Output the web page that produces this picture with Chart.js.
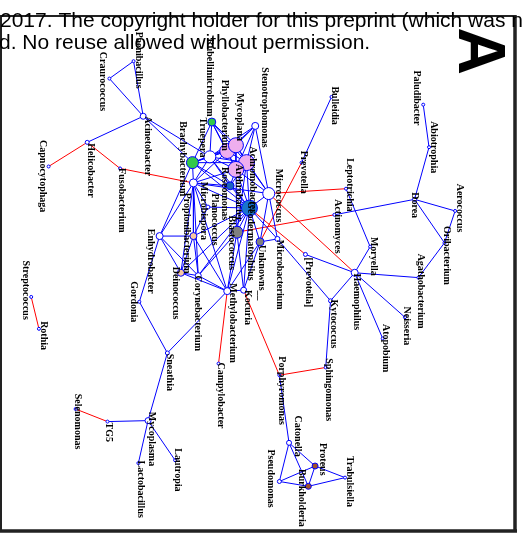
<!DOCTYPE html>
<html>
<head>
<meta charset="utf-8">
<script src="https://cdn.jsdelivr.net/npm/chart.js@4.4.0/dist/chart.umd.min.js"></script>
<style>
  html, body { margin: 0; padding: 0; background: #fff; }
  canvas { display: block; }
</style>
</head>
<body>
<canvas id="net" width="523" height="533"></canvas>
<script>
// Genera in the co-occurrence network and their layout coordinates
const genera = [
  "Paenibacillus", "Craurococcus", "Rubellimicrobium", "Acinetobacter", "Helicobacter",
  "Capnocytophaga", "Fusobacterium", "Brachybacterium", "Truepera", "Phyllobacterium",
  "Mycoplana", "Stenotrophomonas", "Achromobacter", "Arthrobacter", "Roseomonas",
  "Microbispora", "Planococcus", "Propionibacterium", "Geodermatophilus", "Blastococcus",
  "Unknowns__", "Microbacterium", "[Prevotella]", "Methylobacterium", "Kocuria",
  "Corynebacterium", "Deinococcus", "Enhydrobacter", "Gordonia", "Sneathia",
  "Streptococcus", "Rothia", "Campylobacter", "Micrococcus", "Prevotella",
  "Bulleidia", "Leptotrichia", "Actinomyces", "Paludibacter", "Abiotrophia",
  "Dorea", "Aerococcus", "Oribacterium", "Agathobacterium", "Moryella",
  "Haemophilus", "Kytococcus", "Neisseria", "Atopobium", "Sphingomonas",
  "Porphyromonas", "Catonella", "Pseudomonas", "Proteus", "Burkholderia",
  "Trabulsiella", "Selenomonas", "TG5", "Mycoplasma", "Lactobacillus", "Lautropia"
];
const nodeX = [
  129, 104, 210, 139, 81,
  41, 115, 190, 208, 226,
  235, 255, 246, 235, 229,
  191, 206, 191, 249, 236,
  260, 278, 307, 226, 243,
  196, 178, 156, 135, 164,
  23, 31, 217, 269, 303,
  334, 349, 337, 429, 435,
  420, 462, 451, 424, 374,
  358, 333, 410, 387, 328,
  280, 290, 280, 317, 310,
  348, 69, 102, 144, 134, 172
];
const nodeY = [
  54, 72, 117, 111, 138,
  163, 165, 159, 153, 147,
  141, 121, 159, 166, 183,
  180, 205, 235, 206, 231,
  241, 238, 254, 292, 291,
  276, 273, 235, 303, 356,
  298, 331, 367, 191, 159,
  91, 186, 213, 99, 143,
  197, 209, 242, 278, 246,
  273, 302, 319, 341, 371,
  379, 449, 489, 473, 494,
  485, 414, 427, 426, 470, 467
];

// Positive associations
const positiveEdges = [
  ["Paenibacillus","Craurococcus"], ["Paenibacillus","Acinetobacter"], ["Craurococcus","Acinetobacter"],
  ["Acinetobacter","Helicobacter"], ["Acinetobacter","Brachybacterium"], ["Acinetobacter","Truepera"],
  ["Bulleidia","Prevotella"], ["Paludibacter","Abiotrophia"], ["Abiotrophia","Dorea"],
  ["Dorea","Aerococcus"], ["Dorea","Oribacterium"], ["Aerococcus","Oribacterium"],
  ["Oribacterium","Agathobacterium"], ["Dorea","Actinomyces"], ["Leptotrichia","Moryella"],
  ["Moryella","Haemophilus"], ["Haemophilus","Agathobacterium"], ["Haemophilus","Neisseria"],
  ["Haemophilus","Atopobium"], ["Haemophilus","Kytococcus"], ["Haemophilus","[Prevotella]"],
  ["Microbacterium","Kytococcus"], ["Kytococcus","Sphingomonas"], ["Porphyromonas","Catonella"],
  ["Catonella","Pseudomonas"], ["Catonella","Proteus"], ["Catonella","Burkholderia"],
  ["Pseudomonas","Proteus"], ["Pseudomonas","Burkholderia"], ["Proteus","Trabulsiella"],
  ["Burkholderia","Trabulsiella"], ["Proteus","Burkholderia"],
  ["Mycoplasma","TG5"], ["Mycoplasma","Lactobacillus"], ["Mycoplasma","Lautropia"],
  ["Mycoplasma","Sneathia"], ["Sneathia","Gordonia"], ["Sneathia","Methylobacterium"],
  ["Gordonia","Enhydrobacter"], ["Enhydrobacter","Propionibacterium"], ["Enhydrobacter","Deinococcus"],
  ["Enhydrobacter","Corynebacterium"], ["Enhydrobacter","Brachybacterium"], ["Enhydrobacter","Microbispora"],
  ["Rubellimicrobium","Brachybacterium"], ["Rubellimicrobium","Truepera"], ["Rubellimicrobium","Phyllobacterium"],
  ["Rubellimicrobium","Mycoplana"], ["Rubellimicrobium","Achromobacter"], ["Rubellimicrobium","Arthrobacter"],
  ["Brachybacterium","Truepera"], ["Brachybacterium","Phyllobacterium"], ["Brachybacterium","Mycoplana"],
  ["Brachybacterium","Microbispora"], ["Brachybacterium","Roseomonas"], ["Brachybacterium","Achromobacter"],
  ["Brachybacterium","Geodermatophilus"], ["Truepera","Phyllobacterium"], ["Truepera","Mycoplana"],
  ["Truepera","Achromobacter"], ["Truepera","Arthrobacter"], ["Truepera","Microbispora"],
  ["Truepera","Roseomonas"], ["Truepera","Geodermatophilus"], ["Phyllobacterium","Mycoplana"],
  ["Phyllobacterium","Achromobacter"], ["Phyllobacterium","Arthrobacter"], ["Mycoplana","Achromobacter"],
  ["Mycoplana","Arthrobacter"], ["Achromobacter","Arthrobacter"], ["Stenotrophomonas","Mycoplana"],
  ["Stenotrophomonas","Phyllobacterium"], ["Stenotrophomonas","Achromobacter"], ["Stenotrophomonas","Arthrobacter"],
  ["Stenotrophomonas","Micrococcus"], ["Stenotrophomonas","Truepera"], ["Micrococcus","Achromobacter"],
  ["Micrococcus","Arthrobacter"], ["Micrococcus","Geodermatophilus"], ["Micrococcus","Microbispora"],
  ["Micrococcus","Mycoplana"], ["Micrococcus","Unknowns__"], ["Micrococcus","Microbacterium"],
  ["Roseomonas","Achromobacter"], ["Roseomonas","Arthrobacter"], ["Roseomonas","Geodermatophilus"],
  ["Roseomonas","Microbispora"], ["Microbispora","Propionibacterium"], ["Microbispora","Deinococcus"],
  ["Microbispora","Arthrobacter"], ["Microbispora","Phyllobacterium"], ["Microbispora","Planococcus"],
  ["Microbispora","Geodermatophilus"], ["Microbispora","Corynebacterium"], ["Planococcus","Geodermatophilus"],
  ["Planococcus","Propionibacterium"], ["Propionibacterium","Deinococcus"], ["Propionibacterium","Corynebacterium"],
  ["Propionibacterium","Methylobacterium"], ["Propionibacterium","Geodermatophilus"], ["Deinococcus","Corynebacterium"],
  ["Deinococcus","Methylobacterium"], ["Deinococcus","Geodermatophilus"], ["Corynebacterium","Methylobacterium"],
  ["Corynebacterium","Blastococcus"], ["Corynebacterium","Geodermatophilus"], ["Geodermatophilus","Blastococcus"],
  ["Geodermatophilus","Unknowns__"], ["Geodermatophilus","Methylobacterium"], ["Geodermatophilus","Kocuria"],
  ["Geodermatophilus","Achromobacter"], ["Geodermatophilus","Arthrobacter"], ["Geodermatophilus","Microbacterium"],
  ["Blastococcus","Methylobacterium"], ["Blastococcus","Kocuria"], ["Blastococcus","Arthrobacter"],
  ["Blastococcus","Achromobacter"], ["Unknowns__","Kocuria"], ["Unknowns__","Methylobacterium"],
  ["Unknowns__","Microbacterium"], ["Methylobacterium","Kocuria"], ["Methylobacterium","Microbispora"]
];

// Negative associations
const negativeEdges = [
  ["Capnocytophaga","Helicobacter"], ["Helicobacter","Fusobacterium"], ["Fusobacterium","Microbispora"],
  ["Streptococcus","Rothia"], ["Selenomonas","TG5"], ["Methylobacterium","Campylobacter"],
  ["Kocuria","Porphyromonas"], ["Porphyromonas","Sphingomonas"], ["Prevotella","Unknowns__"],
  ["Leptotrichia","Micrococcus"], ["Actinomyces","Blastococcus"], ["Micrococcus","Haemophilus"],
  ["Geodermatophilus","[Prevotella]"]
];

// Node appearance
const nodeRadius = {
  "Rubellimicrobium": 4, "Acinetobacter": 3, "Helicobacter": 2, "Brachybacterium": 6, "Truepera": 6,
  "Phyllobacterium": 7.5, "Mycoplana": 7.5, "Stenotrophomonas": 3.5, "Achromobacter": 8, "Arthrobacter": 8,
  "Roseomonas": 4, "Microbispora": 4, "Planococcus": 2, "Propionibacterium": 3.5, "Geodermatophilus": 8,
  "Blastococcus": 6, "Unknowns__": 4, "Microbacterium": 2.5, "[Prevotella]": 2, "Methylobacterium": 3.5,
  "Kocuria": 3, "Corynebacterium": 3, "Deinococcus": 3.5, "Enhydrobacter": 3.5, "Micrococcus": 6,
  "Haemophilus": 3.5, "Kytococcus": 2, "Catonella": 2.5, "Pseudomonas": 2, "Proteus": 3,
  "Burkholderia": 3, "Mycoplasma": 3, "Dorea": 2, "Sneathia": 2
};
const nodeFill = {
  "Rubellimicrobium": "#33c84a", "Brachybacterium": "#33c84a",
  "Phyllobacterium": "#eeaeee", "Mycoplana": "#eeaeee", "Achromobacter": "#eeaeee", "Arthrobacter": "#eeaeee",
  "Roseomonas": "#1c64c0", "Geodermatophilus": "#1874cd",
  "Blastococcus": "#808080", "Unknowns__": "#808080",
  "Propionibacterium": "#f8c8a0", "Deinococcus": "#f8c8a0",
  "Proteus": "#a0522d", "Burkholderia": "#a0522d"
};

// Label centres (rotated text)
const labelAt = {
  "Paenibacillus": [134, 53], "Craurococcus": [97, 75], "Rubellimicrobium": [208, 71],
  "Acinetobacter": [143, 142], "Helicobacter": [84, 167], "Capnocytophaga": [35, 173],
  "Fusobacterium": [117, 198], "Brachybacterium": [180, 155], "Truepera": [200, 133],
  "Phyllobacterium": [223, 110], "Mycoplana": [239, 112], "Stenotrophomonas": [265, 102],
  "Achromobacter": [252, 177], "Arthrobacter": [238, 190], "Roseomonas": [223, 191],
  "Microbispora": [202, 209], "Planococcus": [213, 218], "Propionibacterium": [184, 232],
  "Geodermatophilus": [250, 240], "Blastococcus": [230, 242], "Unknowns__": [262, 273],
  "Microbacterium": [280, 275], "[Prevotella]": [310, 283], "Methylobacterium": [232, 325],
  "Kocuria": [247, 309], "Corynebacterium": [195, 315], "Deinococcus": [172, 294],
  "Enhydrobacter": [147, 261], "Gordonia": [129, 303], "Sneathia": [166, 376],
  "Streptococcus": [17, 291], "Rothia": [36, 338], "Campylobacter": [219, 400],
  "Micrococcus": [279, 193], "Prevotella": [305, 169], "Bulleidia": [337, 100],
  "Leptotrichia": [353, 182], "Actinomyces": [340, 225], "Paludibacter": [422, 92],
  "Abiotrophia": [440, 143], "Dorea": [420, 203], "Aerococcus": [467, 206],
  "Oribacterium": [453, 255], "Agathobacterium": [426, 292], "Moryella": [378, 256],
  "Haemophilus": [360, 303], "Kytococcus": [336, 326], "Neisseria": [412, 328],
  "Atopobium": [390, 351], "Sphingomonas": [331, 394], "Porphyromonas": [282, 395],
  "Catonella": [299, 442], "Pseudomonas": [271, 486], "Proteus": [325, 466],
  "Burkholderia": [303, 506], "Trabulsiella": [353, 489], "Selenomonas": [71, 427],
  "TG5": [103, 438], "Mycoplasma": [148, 445], "Lactobacillus": [136, 497], "Lautropia": [175, 477]
};

const idx = Object.fromEntries(genera.map((g, i) => [g, i]));
const pt = g => ({ x: nodeX[idx[g]], y: nodeY[idx[g]] });

function edgeSet(pairs, color) {
  return pairs.map(([a, b]) => ({
    data: [pt(a), pt(b)],
    showLine: true,
    borderColor: color,
    borderWidth: 1,
    pointRadius: 0,
    pointHoverRadius: 0,
    order: 2
  }));
}

const nodes = {
  data: genera.map(g => pt(g)),
  pointRadius: genera.map(g => nodeRadius[g] || 1.5),
  pointHoverRadius: genera.map(g => nodeRadius[g] || 1.5),
  pointBackgroundColor: genera.map(g => nodeFill[g] || "#ffffff"),
  pointBorderColor: "#0000ff",
  pointBorderWidth: 1,
  showLine: false,
  order: 0
};

const overlay = {
  id: "netOverlay",
  afterDatasetsDraw(chart) {
    const { ctx, scales: { x, y } } = chart;
    ctx.save();
    ctx.fillStyle = "#000";
    ctx.font = 'bold 10px "Liberation Serif"';
    ctx.textAlign = "center";
    ctx.textBaseline = "middle";
    genera.forEach(g => {
      const [lx, ly] = labelAt[g];
      ctx.save();
      ctx.translate(x.getPixelForValue(lx), y.getPixelForValue(ly));
      ctx.rotate(Math.PI / 2);
      ctx.fillText(g, 0, 0);
      ctx.restore();
    });

    // panel letter
    ctx.save();
    ctx.translate(480, 51);
    ctx.rotate(Math.PI / 2);
    ctx.font = 'bold 66px "Liberation Sans"';
    ctx.fillText("A", 0, 3);
    ctx.restore();

    // frame
    ctx.strokeStyle = "#222";
    ctx.lineWidth = 2;
    ctx.beginPath();
    ctx.moveTo(0, 16); ctx.lineTo(515, 16);
    ctx.moveTo(1, 16); ctx.lineTo(1, 531);
    ctx.stroke();
    ctx.lineWidth = 3.5;
    ctx.beginPath();
    ctx.moveTo(515, 15); ctx.lineTo(515, 532);
    ctx.moveTo(0, 531); ctx.lineTo(517, 531);
    ctx.stroke();

    // preprint notice
    ctx.textAlign = "left";
    ctx.textBaseline = "alphabetic";
    ctx.font = '21px "Liberation Sans"';
    ctx.fillText("2017. The copyright holder for this preprint (which was n", 0, 27);
    ctx.fillText("d. No reuse allowed without permission.", -1, 49);
    ctx.restore();
  }
};

new Chart(document.getElementById("net"), {
  type: "scatter",
  data: { datasets: [nodes, ...edgeSet(positiveEdges, "#0000ff"), ...edgeSet(negativeEdges, "#ff0000")] },
  options: {
    responsive: false,
    animation: false,
    devicePixelRatio: 1,
    layout: { padding: 0 },
    plugins: { legend: { display: false }, tooltip: { enabled: false } },
    scales: {
      x: { type: "linear", min: 0, max: 523, display: false },
      y: { type: "linear", min: 0, max: 533, reverse: true, display: false }
    }
  },
  plugins: [overlay]
});
</script>
</body>
</html>
